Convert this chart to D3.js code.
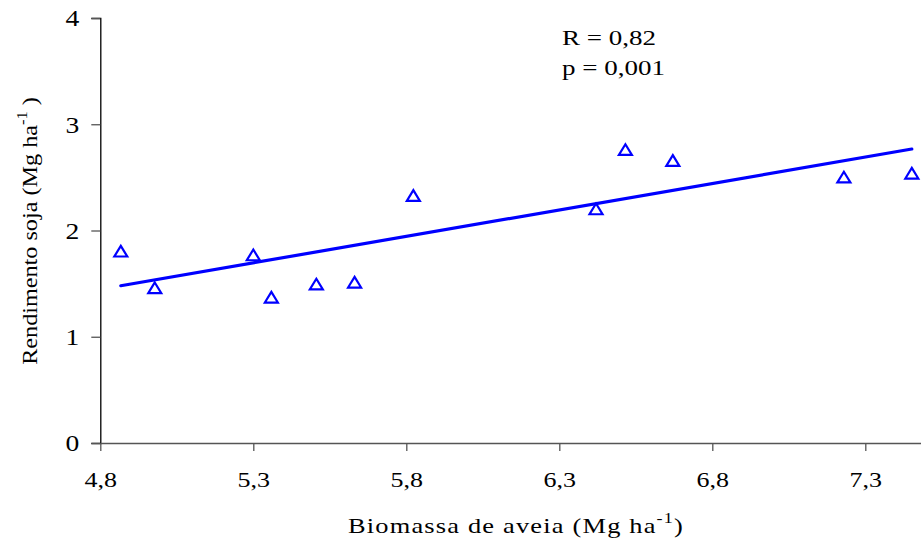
<!DOCTYPE html>
<html>
<head>
<meta charset="utf-8">
<script src="https://cdn.jsdelivr.net/npm/d3@7"></script>
<style>
  body { margin: 0; background: #fff; }
  svg { display: block; font-family: "Liberation Serif", "Times New Roman", serif; }
  text { fill: #000; }
</style>
</head>
<body>
<svg width="921" height="543"></svg>
<script>
const biomassa = [4.867, 4.978, 5.300, 5.359, 5.506, 5.631, 5.823, 6.420, 6.516, 6.671, 7.230, 7.452];
const rendimento = [1.804, 1.459, 1.769, 1.371, 1.494, 1.512, 2.328, 2.202, 2.760, 2.657, 2.501, 2.538];
const xTicks = [4.8, 5.3, 5.8, 6.3, 6.8, 7.3];
const yTicks = [0, 1, 2, 3, 4];
const fitIntercept = -0.942;
const fitSlope = 0.4977;
const statLines = ["R = 0,82", "p = 0,001"];

const svg = d3.select("svg");

// the original glyphs are stretched sideways
const stretch = 1.3;

const xScale = d3.scaleLinear()
    .domain([4.8, 7.5])
    .range([100.3, 100.3 + 2.7 * 306]);

const yScale = d3.scaleLinear()
    .domain([0, 4])
    .range([443, 18]);

// y axis
const yAxis = svg.append("g")
    .attr("transform", `translate(${xScale(4.8)}, 0)`)
    .call(d3.axisLeft(yScale).tickValues(yTicks).tickSize(9).tickFormat(d => d));
yAxis.attr("font-family", null).attr("font-size", null);
yAxis.select(".domain").attr("stroke", "#000").attr("stroke-width", 1.3);
yAxis.selectAll(".tick line").attr("stroke", "#555").attr("stroke-width", 1.3);
yAxis.selectAll(".tick text")
    .attr("font-size", "23px")
    .attr("x", -21 / 1.2)
    .attr("dy", "0.34em")
    .attr("transform", "scale(1.2,1)");

// x axis
const xAxis = svg.append("g")
    .attr("transform", `translate(0, ${yScale(0)})`)
    .call(d3.axisBottom(xScale).tickValues(xTicks).tickSize(8).tickSizeOuter(0)
        .tickFormat(d => d3.format(".1f")(d).replace(".", ",")));
xAxis.attr("font-family", null).attr("font-size", null);
xAxis.select(".domain").attr("stroke", "#555").attr("stroke-width", 1.3);
xAxis.selectAll(".tick line").attr("stroke", "#555").attr("stroke-width", 1.3);
xAxis.selectAll(".tick text")
    .attr("font-size", "20px")
    .attr("y", 44)
    .attr("dy", 0)
    .attr("transform", `scale(${stretch},1)`);

// regression line
const fitLine = d3.line()
    .x(d => xScale(d))
    .y(d => yScale(fitIntercept + fitSlope * d));

svg.append("path")
    .datum(d3.extent(biomassa))
    .attr("d", fitLine)
    .attr("fill", "none")
    .attr("stroke", "#0000ff")
    .attr("stroke-width", 3.2)
    .attr("stroke-linecap", "round");

// triangle markers
const tri = {
    draw(ctx) {
        ctx.moveTo(0, -5.5);
        ctx.lineTo(6.5, 5.2);
        ctx.lineTo(-6.5, 5.2);
        ctx.closePath();
    }
};

svg.append("g")
    .selectAll("path")
    .data(biomassa.map((x, i) => ({ x: x, y: rendimento[i] })))
    .join("path")
    .attr("transform", d => `translate(${xScale(d.x)}, ${yScale(d.y)})`)
    .attr("d", d3.symbol(tri))
    .attr("fill", "none")
    .attr("stroke", "#0000ff")
    .attr("stroke-width", 2.2);

// stats text
svg.append("g")
    .selectAll("text")
    .data(statLines)
    .join("text")
    .attr("font-size", "20px")
    .attr("transform", (d, i) => `translate(562, ${45 + i * 30}) scale(1.35,1)`)
    .text(d => d);

// axis titles
const xt = svg.append("text")
    .attr("font-size", "22px")
    .attr("transform", "translate(516, 533) scale(1.2,1)")
    .attr("text-anchor", "middle")
    .attr("letter-spacing", "1px");
xt.append("tspan").text("Biomassa de aveia (Mg ha");
xt.append("tspan").attr("dy", -10).attr("font-size", "15px").text("-1");
xt.append("tspan").attr("dy", 10).text(")");

const yt = svg.append("text")
    .attr("font-size", "22px")
    .attr("transform", "translate(37, 231) rotate(-90) scale(1.1,1)")
    .attr("text-anchor", "middle");
yt.append("tspan").text("Rendimento soja (Mg ha");
yt.append("tspan").attr("dy", -10).attr("font-size", "15px").text("-1");
yt.append("tspan").attr("dy", 10).text(" )");
</script>
</body>
</html>
